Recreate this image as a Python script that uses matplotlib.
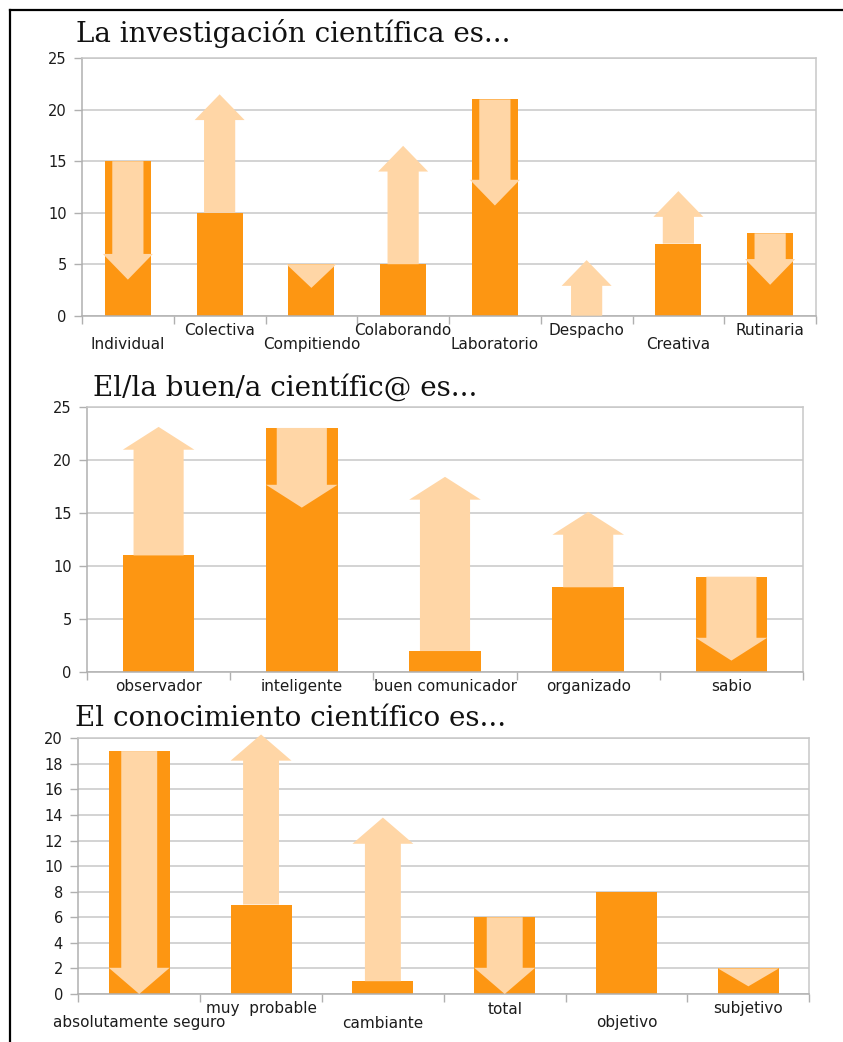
import matplotlib
matplotlib.use("Agg")
import matplotlib.pyplot as plt
import matplotlib.transforms as mtransforms
from matplotlib.patches import Polygon
from matplotlib.lines import Line2D

# ---- data -------------------------------------------------------------
inv_labels = ["Individual", "Colectiva", "Compitiendo", "Colaborando",
              "Laboratorio", "Despacho", "Creativa", "Rutinaria"]
inv_before = [15, 10, 5, 5, 21, 0, 7, 8]
inv_after = [3.5, 21.5, 2.7, 16.5, 10.7, 5.4, 12.1, 3.0]

cient_labels = ["observador", "inteligente", "buen comunicador",
                "organizado", "sabio"]
cient_before = [11, 23, 2, 8, 9]
cient_after = [23.1, 15.5, 18.4, 15.1, 1.1]

con_labels = ["absolutamente seguro", "muy  probable", "cambiante",
              "total", "objetivo", "subjetivo"]
con_before = [19, 7, 1, 6, 8, 2]
con_after = [0.0, 20.3, 13.8, 0.0, 8, 0.6]

inv_yticks = [0, 5, 10, 15, 20, 25]
cient_yticks = [0, 5, 10, 15, 20, 25]
con_yticks = list(range(0, 21, 2))

# ---- style ------------------------------------------------------------
BAR = "#FD9612"
ARROW = "#FFD6A6"
GRID = "#C8C8C8"
SPINE = "#B0B0B0"
TXT = "#1c1c1c"

W, H = 843, 1042
fig = plt.figure(figsize=(W / 100, H / 100), dpi=100)
fig.patch.set_facecolor("white")


def axes_px(left, right, top, bottom):
    return fig.add_axes([left / W, 1 - bottom / H,
                         (right - left) / W, (bottom - top) / H])


def arrow_poly(x, y0, y1, shaft_hw, head_hw, head_len):
    """Block arrow from y0 to y1 centred on x (data coordinates)."""
    d = 1 if y1 > y0 else -1
    length = abs(y1 - y0)
    if length <= head_len:
        return [(x - head_hw, y0), (x + head_hw, y0), (x, y1)]
    yb = y1 - d * head_len
    return [(x - shaft_hw, y0), (x + shaft_hw, y0), (x + shaft_hw, yb),
            (x + head_hw, yb), (x, y1), (x - head_hw, yb),
            (x - shaft_hw, yb)]


def panel(rect, title, title_xy, labels, before, after, yticks,
          shaft_frac, head_frac, head_len, stagger):
    ax = axes_px(*rect)
    n = len(labels)
    bw = 0.5
    xs = [i + 0.5 for i in range(n)]
    ax.bar(xs, before, width=bw, color=BAR, zorder=2, linewidth=0)
    for x, b, a in zip(xs, before, after):
        if a == b:
            continue
        pts = arrow_poly(x, b, a, shaft_frac * bw / 2, head_frac * bw / 2,
                         head_len)
        ax.add_patch(Polygon(pts, closed=True, facecolor=ARROW,
                             edgecolor="none", zorder=3, clip_on=False))
    ax.set_xlim(0, n)
    ax.set_ylim(yticks[0], yticks[-1])
    ax.set_yticks(yticks)
    ax.set_yticklabels([str(t) for t in yticks], fontsize=10.5, color=TXT,
                       family="DejaVu Sans")
    ax.set_xticks(range(n + 1))
    ax.set_xticklabels([])
    ax.tick_params(axis="y", length=6, width=1, color=SPINE, pad=5)
    ax.tick_params(axis="x", length=6, width=1, color=SPINE)
    ax.grid(axis="y", color=GRID, linewidth=1.1, zorder=0)
    ax.set_axisbelow(True)
    for s in ax.spines.values():
        s.set_color(SPINE)
        s.set_linewidth(1.1)
    ax.spines["top"].set_color(GRID)
    ax.spines["right"].set_color(GRID)

    base = mtransforms.blended_transform_factory(ax.transData, ax.transAxes)
    for i, (x, lab) in enumerate(zip(xs, labels)):
        if stagger:
            off = -29 if i % 2 == 0 else -15
        else:
            off = -14.5
        tr = base + mtransforms.ScaledTranslation(0, off / 100,
                                                  fig.dpi_scale_trans)
        ax.text(x, 0, lab, transform=tr, ha="center", va="center",
                fontsize=11, color=TXT, family="DejaVu Sans")

    fig.text(title_xy[0] / W, 1 - title_xy[1] / H, title, ha="left",
             va="baseline", fontsize=20, family="DejaVu Serif", color="#111")
    return ax


panel((82, 816, 58.3, 315.7), "La investigación científica es...",
      (76, 42), inv_labels, inv_before, inv_after, inv_yticks,
      0.68, 1.09, 2.5, True)
panel((87, 803, 406.7, 672.3), "El/la buen/a científic@ es...",
      (93, 396), cient_labels, cient_before, cient_after, cient_yticks,
      0.70, 1.0, 2.15, False)
panel((78.3, 809.3, 738.3, 994), "El conocimiento científico es...",
      (75, 726), con_labels, con_before, con_after, con_yticks,
      0.59, 1.0, 2.05, True)

# frame lines along the top and left edges
fig.add_artist(Line2D([9.5 / W, 9.5 / W], [0, 1 - 10 / H], color="black",
                      linewidth=1.6, transform=fig.transFigure))
fig.add_artist(Line2D([9.5 / W, 1], [1 - 10 / H, 1 - 10 / H], color="black",
                      linewidth=1.6, transform=fig.transFigure))

fig.savefig("out.png", dpi=100, facecolor="white")
